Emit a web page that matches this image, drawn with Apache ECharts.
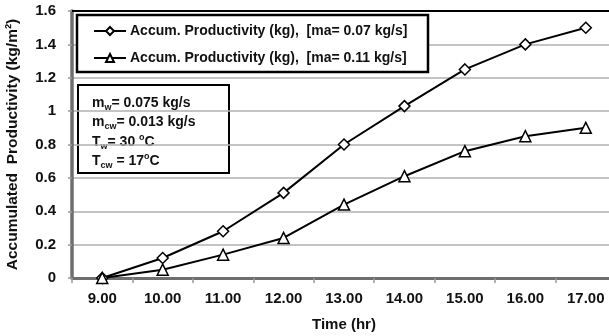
<!DOCTYPE html>
<html>
<head>
<meta charset="utf-8">
<script src="https://cdn.jsdelivr.net/npm/echarts@6/dist/echarts.min.js"></script>
<style>
  html, body { margin: 0; padding: 0; background: #fff; }
  #chart { width: 609px; height: 336px; }
</style>
</head>
<body>
<div id="chart"></div>
<script>
// Hour of day (x categories)
const hours = ['9.00', '10.00', '11.00', '12.00', '13.00', '14.00', '15.00', '16.00', '17.00'];
// Accumulated productivity, kg/m²
const prodMa007 = [0, 0.12, 0.28, 0.51, 0.80, 1.03, 1.25, 1.40, 1.50];
const prodMa011 = [0, 0.05, 0.14, 0.24, 0.44, 0.61, 0.76, 0.85, 0.90];
const seriesNames = [
  'Accum. Productivity (kg),  [ma= 0.07 kg/s]',
  'Accum. Productivity (kg),  [ma= 0.11 kg/s]'
];

const FONT = '"Liberation Sans", Arial, sans-serif';
const INK = '#111';
const chart = echarts.init(document.getElementById('chart'), null, { renderer: 'canvas' });

const lineSeries = (name, data, symbol) => ({
  name, type: 'line', data,
  symbol, symbolSize: 11,
  lineStyle: { color: '#000', width: 2 },
  itemStyle: { color: '#fff', borderColor: '#000', borderWidth: 1.5 },
  emphasis: { disabled: true },
  z: 5
});

// one line of the parameter box: base text with sub/superscript tokens
const rich = {
  t: { fontFamily: FONT, fontWeight: 'bold', fontSize: 14, fill: INK, lineHeight: 18, verticalAlign: 'middle' },
  s: { fontFamily: FONT, fontWeight: 'bold', fontSize: 9, fill: INK, lineHeight: 9, verticalAlign: 'bottom' },
  p: { fontFamily: FONT, fontWeight: 'bold', fontSize: 9, fill: INK, lineHeight: 10, verticalAlign: 'top' }
};
const boxLines = [
  '{t|m}{s|w}{t|= 0.075 kg/s}',
  '{t|m}{s|cw}{t|= 0.013 kg/s}',
  '{t|T}{s|w}{t|= 30 }{p|o}{t|C}',
  '{t|T}{s|cw}{t| = 17}{p|o}{t|C}'
];

chart.setOption({
  animation: false,
  grid: { left: 72, right: -7, top: 11, bottom: 58, containLabel: false, outerBoundsMode: 'none' },
  xAxis: {
    type: 'category',
    data: hours,
    boundaryGap: true,
    name: 'Time (hr)',
    nameLocation: 'middle',
    nameGap: 39,
    nameTextStyle: { fontFamily: FONT, fontWeight: 'bold', fontSize: 15, color: INK },
    axisLine: { lineStyle: { color: '#6e6e6e', width: 3 } },
    axisTick: { show: true, length: 5, lineStyle: { color: '#999', width: 1.5 } },
    axisLabel: { fontFamily: FONT, fontWeight: 'bold', fontSize: 15, color: INK, margin: 13 },
    splitLine: { show: false }
  },
  yAxis: {
    type: 'value',
    min: 0, max: 1.6, interval: 0.2,
    name: 'Accumulated  Productivity (kg/m²)',
    nameLocation: 'middle',
    nameGap: 51,
    nameRotate: 90,
    nameTextStyle: { fontFamily: FONT, fontWeight: 'bold', fontSize: 15.5, color: INK },
    axisLine: { show: true, lineStyle: { color: '#6e6e6e', width: 3.5 } },
    axisTick: { show: true, length: 4, lineStyle: { color: '#999', width: 1.5 } },
    axisLabel: {
      fontFamily: FONT, fontWeight: 'bold', fontSize: 15, color: INK, margin: 16,
      formatter: v => (Math.abs(v - Math.round(v)) < 1e-9 ? String(Math.round(v)) : v.toFixed(1))
    },
    splitLine: { show: true, lineStyle: { color: '#b0b0b0', width: 1.5 } }
  },
  legend: {
    show: true,
    orient: 'vertical',
    left: 77, top: 15,
    padding: [9, 10, 8, 16],
    itemGap: 13,
    itemWidth: 32, itemHeight: 10,
    backgroundColor: 'transparent',
    borderWidth: 0,
    z: 12,
    textStyle: { fontFamily: FONT, fontWeight: 'bold', fontSize: 14, color: INK, padding: [0, 0, 0, -1] },
    data: seriesNames
  },
  graphic: [
    // top frame line of the plot area
    {
      type: 'line', z: 3,
      shape: { x1: 72, y1: 11, x2: 609, y2: 11 },
      style: { stroke: '#000', lineWidth: 2 }
    },
    // legend frame
    {
      type: 'rect', z: 9,
      shape: { x: 77, y: 15, width: 351, height: 57 },
      style: { fill: '#fff', stroke: '#000', lineWidth: 2.5 }
    },
    // parameter box
    {
      type: 'group', left: 77, top: 84, z: 10,
      children: [
        {
          type: 'rect',
          shape: { x: 0, y: 0, width: 151, height: 88 },
          style: { fill: '#fff', stroke: '#000', lineWidth: 2 }
        }
      ].concat(boxLines.map((txt, i) => ({
        type: 'text', x: 14, y: 9 + i * 19.5,
        style: { text: txt, rich, fill: INK }
      })))
    }
  ],
  series: [
    lineSeries(seriesNames[0], prodMa007, 'diamond'),
    lineSeries(seriesNames[1], prodMa011, 'triangle')
  ]
});
</script>
</body>
</html>
